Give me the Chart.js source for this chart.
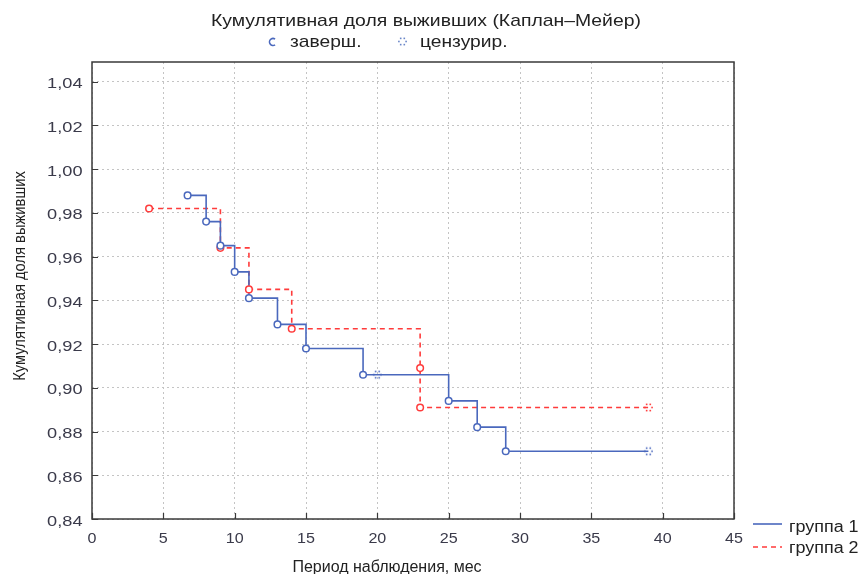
<!DOCTYPE html>
<html>
<head>
<meta charset="utf-8">
<script src="https://cdn.jsdelivr.net/npm/chart.js@4.4.0/dist/chart.umd.min.js"></script>
<style>
  body { margin: 0; background: #fff; }
  #wrap { width: 865px; height: 574px; }
</style>
</head>
<body>
<div id="wrap"><canvas id="km" width="865" height="574"></canvas></div>
<script>
// данные
const titleText = 'Кумулятивная доля выживших (Каплан–Мейер)';
const xTitle = 'Период наблюдения, мес';
const yTitle = 'Кумулятивная доля выживших';
const markerLabels = ['заверш.', 'цензурир.'];
const groupLabels = ['группа 1', 'группа 2'];

const xTicks = [0, 5, 10, 15, 20, 25, 30, 35, 40, 45];
const yTicks = [0.84, 0.86, 0.88, 0.90, 0.92, 0.94, 0.96, 0.98, 1.00, 1.02, 1.04];

// группа 1
const g1Time = [6.7, 8, 9, 10, 11, 13, 15, 19, 25, 27, 29];
const g1Surv = [0.988, 0.976, 0.965, 0.953, 0.941, 0.929, 0.918, 0.906, 0.894, 0.882, 0.871];
const g1CensTime = [20, 39];
const g1CensSurv = [0.906, 0.871];

// группа 2
const g2Time = [4, 9, 11, 14, 23, 23];
const g2Surv = [0.982, 0.964, 0.945, 0.927, 0.909, 0.891];
const g2CensTime = [39];
const g2CensSurv = [0.891];

const blue = '#4a68bd';
const red = '#ff3b3b';
const font = '"Liberation Sans", Arial, sans-serif';

function pts(t, s) {
  return t.map((v, i) => ({ x: v, y: s[i] }));
}

function stepLine(t, s, ct, cs) {
  return pts(t, s).concat(pts(ct, cs)).sort((a, b) => a.x - b.x);
}

function censorIcon(color) {
  const c = document.createElement('canvas');
  c.width = 11; c.height = 11;
  const g = c.getContext('2d');
  g.fillStyle = color;
  [0, 60, 120, 180, 240, 300].forEach(a => {
    const r = a * Math.PI / 180;
    g.fillRect(5.5 + Math.cos(r) * 3.6 - 0.8, 5.5 + Math.sin(r) * 3.6 - 0.8, 1.6, 1.6);
  });
  return c;
}

// текст с горизонтальным растяжением (в оригинале шрифт шире)
function txt(ctx, s, x, y, size, sx, align) {
  ctx.save();
  ctx.font = size + 'px ' + font;
  ctx.textAlign = align || 'left';
  ctx.textBaseline = 'alphabetic';
  ctx.translate(x, y);
  ctx.scale(sx, 1);
  ctx.fillText(s, 0, 0);
  ctx.restore();
}

const decor = {
  id: 'decor',
  afterDraw(chart) {
    const ctx = chart.ctx;
    const a = chart.chartArea;
    const xs = chart.scales.x, ys = chart.scales.y;
    ctx.save();

    // рамка и внутренние засечки
    ctx.strokeStyle = '#3a3a3a';
    ctx.lineWidth = 1.5;
    ctx.strokeRect(a.left, a.top, a.right - a.left, a.bottom - a.top);
    ctx.lineWidth = 1.2;
    ctx.beginPath();
    yTicks.forEach(v => {
      const p = Math.round(ys.getPixelForValue(v)) + 0.5;
      ctx.moveTo(a.left, p); ctx.lineTo(a.left + 6, p);
    });
    xTicks.forEach(v => {
      const p = Math.round(xs.getPixelForValue(v)) + 0.5;
      ctx.moveTo(p, a.bottom); ctx.lineTo(p, a.bottom - 6);
    });
    ctx.stroke();

    // подписи делений
    ctx.fillStyle = '#3a3a4a';
    yTicks.forEach(v => {
      txt(ctx, v.toFixed(2).replace('.', ','), 82.5, ys.getPixelForValue(v) + 6.5, 14, 1.3, 'right');
    });
    xTicks.forEach(v => {
      txt(ctx, String(v), xs.getPixelForValue(v), 543, 14, 1.15, 'center');
    });

    ctx.fillStyle = '#222';
    txt(ctx, titleText, 426, 26, 17, 1.14, 'center');

    // верхняя легенда
    ctx.strokeStyle = blue;
    ctx.lineWidth = 1.6;
    ctx.beginPath();
    ctx.arc(273, 42, 3.5, Math.PI * 0.3, Math.PI * 1.7);
    ctx.stroke();
    ctx.drawImage(censorIcon('#6a86c8'), 397, 36);
    txt(ctx, markerLabels[0], 290, 47, 17, 1.13);
    txt(ctx, markerLabels[1], 420, 47, 17, 1.13);

    // нижняя легенда
    ctx.lineWidth = 1.6;
    ctx.strokeStyle = blue;
    ctx.beginPath(); ctx.moveTo(753, 524); ctx.lineTo(782, 524); ctx.stroke();
    ctx.strokeStyle = red;
    ctx.setLineDash([5, 4]);
    ctx.beginPath(); ctx.moveTo(753, 547); ctx.lineTo(782, 547); ctx.stroke();
    ctx.setLineDash([]);
    txt(ctx, groupLabels[0], 789, 532, 16, 1.12);
    txt(ctx, groupLabels[1], 789, 553, 16, 1.12);

    // подписи осей
    txt(ctx, xTitle, 387, 572, 16, 1, 'center');
    ctx.translate(25, 276);
    ctx.rotate(-Math.PI / 2);
    txt(ctx, yTitle, 0, 0, 16, 0.92, 'center');
    ctx.restore();
  }
};

new Chart(document.getElementById('km'), {
  type: 'scatter',
  data: {
    datasets: [
      {
        label: 'g1 compl',
        data: pts(g1Time, g1Surv),
        pointStyle: 'circle', pointRadius: 3.3,
        borderColor: blue, backgroundColor: '#fff', borderWidth: 1.5
      },
      {
        label: 'g1 cens',
        data: pts(g1CensTime, g1CensSurv),
        pointStyle: censorIcon(blue)
      },
      {
        label: 'g2 compl',
        data: pts(g2Time, g2Surv),
        pointStyle: 'circle', pointRadius: 3.3,
        borderColor: red, backgroundColor: '#fff', borderWidth: 1.5
      },
      {
        label: 'g2 cens',
        data: pts(g2CensTime, g2CensSurv),
        pointStyle: censorIcon(red)
      },
      {
        label: groupLabels[0],
        data: stepLine(g1Time, g1Surv, g1CensTime, g1CensSurv),
        showLine: true, stepped: 'before', pointRadius: 0,
        borderColor: blue, borderWidth: 1.6
      },
      {
        label: groupLabels[1],
        data: stepLine(g2Time, g2Surv, g2CensTime, g2CensSurv),
        showLine: true, stepped: 'before', pointRadius: 0,
        borderColor: red, borderWidth: 1.6, borderDash: [5, 4]
      }
    ]
  },
  options: {
    responsive: false,
    animation: false,
    layout: { padding: { top: 62, right: 131, left: 0, bottom: 0 } },
    plugins: {
      legend: { display: false },
      title: { display: false },
      tooltip: { enabled: false }
    },
    scales: {
      x: {
        type: 'linear', min: 0, max: 45,
        afterFit: s => { s.height = 55; },
        afterBuildTicks: s => { s.ticks = xTicks.map(v => ({ value: v })); },
        grid: { color: '#c4c4c4', drawTicks: false },
        border: { display: false, dash: [2, 3] },
        ticks: { display: false }
      },
      y: {
        type: 'linear', min: 0.84, max: 1.049,
        afterFit: s => { s.width = 92; },
        afterBuildTicks: s => { s.ticks = yTicks.map(v => ({ value: v })); },
        grid: { color: '#c4c4c4', drawTicks: false },
        border: { display: false, dash: [2, 3] },
        ticks: { display: false }
      }
    }
  },
  plugins: [decor]
});
</script>
</body>
</html>
